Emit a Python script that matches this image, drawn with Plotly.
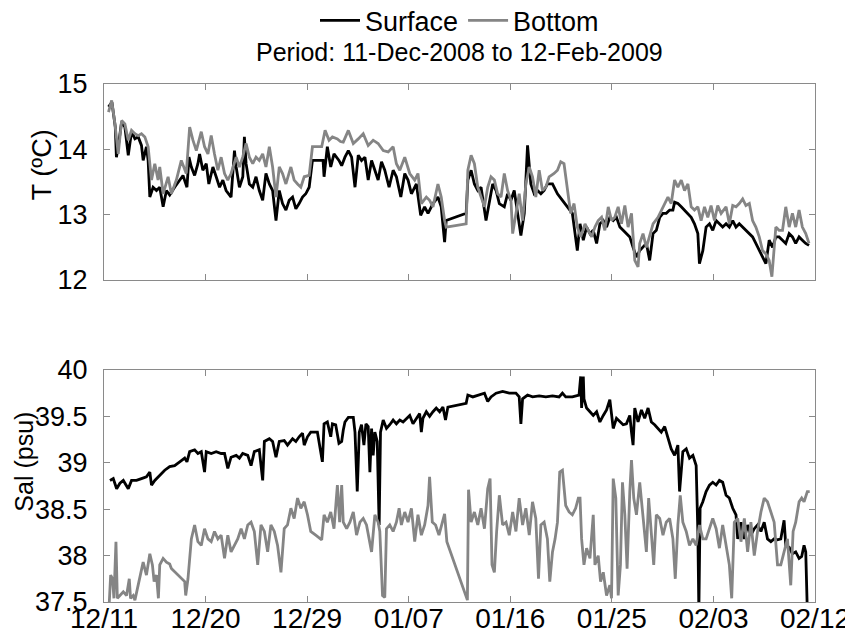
import pandas as pd
import plotly.graph_objects as go
from plotly.subplots import make_subplots

START = "2008-12-11"
END = "2009-02-12"

# ---------------- data (days since 11-Dec-2008, values) ----------------
surf_T_day = [0.4, 0.7, 1.0, 1.1, 1.26, 1.56, 1.85, 2.15, 2.44, 2.74, 3.03, 3.32, 3.47, 3.76, 3.91,
              4.06, 4.35, 4.65, 4.94, 5.24, 5.53, 5.82, 6.26, 6.71, 7.0, 7.35, 7.53, 7.74, 8.03, 8.32,
              8.47, 8.76, 9.06, 9.29, 9.65, 9.94, 10.24, 10.53, 10.82, 11.26, 11.56, 11.71, 12.0, 12.3,
              12.44, 12.59, 12.88, 13.18, 13.47, 13.76, 14.06, 14.35, 14.65, 14.94, 15.24, 15.53, 15.82,
              16.12, 16.41, 16.71, 17.0, 17.29, 17.59, 17.88, 18.18, 18.47, 19.06, 19.41, 19.5, 19.79,
              20.09, 20.38, 20.82, 21.06, 21.35, 21.65, 21.94, 22.24, 22.53, 22.82, 23.12, 23.41, 23.71,
              24.0, 24.29, 24.59, 24.88, 25.26, 25.62, 25.91, 26.3, 26.65, 26.94, 27.24, 27.68, 28.06,
              28.41, 28.71, 29.15, 29.59, 29.88, 30.18, 30.32, 32.09, 32.24, 32.53, 32.82, 33.12, 33.41,
              33.85, 34.15, 34.44, 34.74, 35.03, 35.47, 35.76, 36.06, 36.35, 36.65, 36.94, 37.24, 37.53,
              37.82, 38.12, 38.41, 38.71, 39.0, 39.29, 39.74, 40.18, 40.62, 41.06, 41.5, 41.94, 42.18,
              42.47, 42.76, 43.06, 43.35, 43.65, 43.94, 44.24, 44.53, 44.82, 45.12, 45.41, 45.71, 46.0,
              46.29, 46.59, 46.88, 47.18, 47.47, 47.76, 48.06, 48.35, 48.65, 48.94, 49.24, 49.53, 49.82,
              50.12, 50.41, 50.56, 50.85, 51.15, 51.44, 51.74, 52.03, 52.32, 52.62, 52.76, 53.06, 53.35,
              53.65, 53.94, 54.24, 54.53, 54.82, 55.12, 55.41, 55.71, 56.0, 56.29, 56.59, 56.88, 57.18,
              57.47, 57.76, 58.06, 58.35, 58.65, 58.94, 59.24, 59.53, 59.82, 60.12, 60.41, 60.71, 61.0,
              61.29, 61.59, 61.88, 62.18, 62.47]
surf_T = [14.65, 14.72, 14.34, 13.88, 14.04, 14.42, 14.34, 13.91, 14.27, 14.16, 14.19, 14.06, 13.83, 14.04, 13.83,
          13.27, 13.42, 13.37, 13.42, 13.12, 13.37, 13.30, 13.42, 13.53, 13.60, 13.42, 13.88, 13.73, 13.60, 13.78,
          13.93, 13.68, 13.78, 13.47, 13.73, 13.58, 13.42, 13.53, 13.37, 13.27, 13.98, 13.73, 13.42, 13.58,
          14.19, 13.78, 13.47, 13.42, 13.58, 13.37, 13.22, 13.63, 13.47, 13.37, 12.91, 13.37, 13.17,
          13.07, 13.22, 13.27, 13.09, 13.17, 13.27, 13.32, 13.42, 13.83, 13.83, 13.83, 13.58, 14.04,
          13.73, 13.93, 13.83, 13.75, 13.88, 13.98, 13.88, 13.42, 13.91, 13.83, 13.88, 13.53, 13.83,
          13.68, 13.53, 13.81, 13.68, 13.42, 13.68, 13.58, 13.27, 13.63, 13.53, 13.32, 13.47, 12.99,
          13.12, 13.02, 13.17, 13.27, 13.12, 12.58, 12.91, 13.02, 13.53, 13.68, 13.47, 13.37, 13.42,
          12.91, 13.22, 13.47, 13.37, 13.17, 13.12, 13.32, 13.22, 13.37, 13.02, 12.68, 13.02, 14.06,
          13.47, 13.32, 13.37, 13.32, 13.37, 13.47, 13.47, 13.32, 13.22, 13.12, 13.02, 12.45, 12.86,
          12.61, 12.81, 12.71, 12.76, 12.56, 12.86, 12.91, 12.81, 12.96, 12.91, 12.96, 12.81, 12.76,
          12.71, 12.66, 12.50, 12.35, 12.45, 12.50, 12.56, 12.30, 12.71, 12.76, 12.96, 13.02, 13.02,
          13.07, 13.07, 13.19, 13.17, 13.12, 13.07, 13.02, 12.96, 12.86, 12.71, 12.25, 12.45, 12.81,
          12.86, 12.76, 12.91, 12.86, 12.81, 12.86, 12.81, 12.91, 12.81, 12.86, 12.81, 12.76, 12.71,
          12.66, 12.56, 12.45, 12.35, 12.25, 12.61, 12.50, 12.66, 12.66, 12.61, 12.56, 12.71, 12.66,
          12.56, 12.66, 12.61, 12.56, 12.53]

bot_T_day = [0.4, 0.68, 0.97, 1.26, 1.56, 1.85, 2.15, 2.44, 2.74, 3.03, 3.32, 3.62, 3.91, 4.21, 4.5,
             4.79, 4.94, 5.24, 5.68, 5.97, 6.41, 6.85, 7.29, 7.59, 7.88, 8.18, 8.62, 8.91, 9.21, 9.5,
             9.79, 10.09, 10.38, 10.68, 10.97, 11.26, 11.71, 12.0, 12.29, 12.59, 12.88, 13.18, 13.47,
             13.76, 14.06, 14.35, 14.65, 14.94, 15.24, 15.53, 15.82, 16.12, 16.56, 16.85, 17.15, 17.44,
             17.74, 18.18, 18.47, 19.29, 19.59, 19.94, 20.24, 20.68, 20.95, 21.2, 21.65, 22.09, 22.53,
             22.97, 23.41, 23.85, 24.29, 24.74, 25.18, 25.62, 25.91, 26.21, 26.65, 27.09, 27.53, 27.82,
             28.12, 28.56, 28.85, 29.15, 29.59, 29.88, 30.18, 30.32, 32.09, 32.24, 32.53, 32.82, 33.12,
             33.41, 33.71, 34.0, 34.29, 34.59, 34.88, 35.18, 35.47, 35.76, 36.06, 36.21, 36.5, 36.79,
             37.09, 37.38, 37.68, 37.97, 38.26, 38.56, 38.85, 39.15, 39.44, 39.88, 40.18, 40.47, 40.76,
             41.06, 41.35, 41.65, 41.94, 42.24, 42.62, 42.91, 43.21, 43.5, 43.79, 44.09, 44.38, 44.68,
             44.97, 45.26, 45.56, 45.85, 46.15, 46.44, 46.74, 47.03, 47.32, 47.47, 47.76, 48.06, 48.35,
             48.65, 49.09, 49.53, 49.97, 50.26, 50.56, 50.85, 51.15, 51.44, 51.74, 52.03, 52.32, 52.62,
             52.91, 53.21, 53.5, 53.79, 54.09, 54.38, 54.68, 55.12, 55.41, 55.71, 56.0, 56.29, 56.59,
             56.88, 57.18, 57.47, 57.76, 58.06, 58.35, 58.65, 58.94, 59.18, 59.53, 59.82, 60.12, 60.41,
             60.71, 61.0, 61.29, 61.59, 61.88, 62.18, 62.47]
bot_T = [14.57, 14.75, 14.39, 13.93, 14.44, 14.39, 14.14, 14.29, 14.24, 14.21, 14.24, 14.19, 14.04, 13.53, 13.78,
         13.53, 13.73, 13.32, 13.58, 13.32, 13.53, 13.83, 13.63, 14.34, 14.14, 13.98, 14.27, 14.04, 13.93, 14.21,
         13.93, 13.68, 13.88, 13.63, 13.53, 13.63, 13.88, 13.73, 13.88, 14.09, 13.88, 13.78, 13.88,
         13.83, 13.93, 13.73, 14.04, 13.73, 13.27, 13.73, 13.63, 13.47, 13.73, 13.53, 13.47, 13.42,
         13.58, 13.60, 14.04, 14.04, 14.29, 14.14, 14.19, 14.16, 14.12, 14.11, 14.29, 14.09, 14.16,
         14.24, 14.06, 14.14, 14.09, 13.98, 13.96, 14.04, 13.78, 13.68, 13.88, 13.63, 13.53, 13.63,
         13.17, 13.27, 13.22, 13.12, 13.47, 13.27, 12.91, 12.81, 12.86, 13.68, 13.91, 13.78, 13.42,
         13.27, 13.12, 13.42, 13.58, 13.53, 13.32, 13.27, 13.63, 13.37, 13.22, 12.71, 13.02, 13.32,
         12.91, 13.47, 13.73, 13.58, 13.27, 13.68, 13.37, 13.42, 13.58, 13.63, 13.68, 13.81, 13.78,
         13.37, 13.02, 13.17, 12.81, 12.66, 12.86, 12.76, 12.66, 12.81, 12.91, 12.96, 12.76, 13.12,
         12.91, 12.96, 13.12, 12.86, 13.14, 12.81, 13.02, 12.30, 12.20, 12.56, 12.71, 12.50, 12.66,
         12.86, 12.96, 13.12, 13.27, 13.17, 13.53, 13.42, 13.53, 13.37, 13.47, 13.12, 13.07, 13.12,
         12.91, 13.12, 12.96, 13.14, 12.91, 13.14, 13.02, 13.12, 12.86, 13.14, 13.12, 13.17, 13.24,
         13.14, 13.17, 12.91, 12.81, 12.66, 12.45, 12.40, 12.30, 12.05, 12.81, 12.76, 12.76, 13.12,
         12.81, 13.02, 12.81, 13.07, 12.81, 12.71, 12.56]

surf_S_day = [0.53, 0.82, 1.12, 1.41, 1.71, 2.15, 2.44, 2.88, 3.32, 3.76, 4.06, 4.21, 4.5, 4.94, 5.38,
              5.82, 6.26, 6.71, 7.15, 7.35, 7.59, 8.03, 8.32, 8.62, 8.91, 9.06, 9.5, 9.94, 10.38, 10.68,
              10.97, 11.26, 11.71, 12.0, 12.29, 12.74, 13.03, 13.32, 13.76, 14.06, 14.21, 14.65, 14.94,
              15.24, 15.53, 15.97, 16.26, 16.71, 17.0, 17.29, 17.59, 17.74, 18.03, 18.32, 18.62, 18.91,
              19.35, 19.5, 19.79, 20.09, 20.24, 20.53, 20.82, 21.06, 21.2, 21.35, 21.65, 22.09, 22.24,
              22.44, 22.62, 22.82, 23.03, 23.21, 23.41, 23.56, 23.71, 23.85, 24.0, 24.21, 24.38, 24.5,
              24.74, 25.03, 25.32, 25.62, 25.91, 26.21, 26.5, 26.79, 27.09, 27.38, 27.68, 27.97, 28.12,
              28.26, 28.56, 28.85, 29.15, 29.44, 29.74, 30.03, 30.26, 30.47, 32.09, 32.24, 32.68, 33.26,
              33.71, 34.0, 34.29, 34.74, 35.32, 35.91, 36.5, 36.79, 36.94, 37.09, 37.53, 37.97, 38.56,
              39.15, 39.74, 40.32, 40.62, 40.91, 41.5, 42.09, 42.24, 42.32, 42.47, 42.53, 42.76, 43.06,
              43.35, 43.65, 43.94, 44.24, 44.53, 44.82, 45.12, 45.41, 45.71, 46.0, 46.29, 46.59, 46.74,
              46.88, 47.03, 47.32, 47.62, 47.91, 48.21, 48.5, 48.79, 49.09, 49.38, 49.68, 49.97, 50.26,
              50.56, 50.85, 51.0, 51.29, 51.59, 51.88, 52.18, 52.47, 52.62, 52.71, 52.82, 53.06, 53.35,
              53.65, 53.94, 54.24, 54.53, 54.82, 55.12, 55.41, 55.71, 56.0, 56.15, 56.44, 56.74, 57.03,
              57.32, 57.62, 57.91, 58.21, 58.5, 58.79, 59.09, 59.38, 59.68, 59.97, 60.26, 60.41, 60.71,
              61.0, 61.29, 61.59, 61.82, 62.03, 62.18, 62.32]
surf_S = [38.81, 38.83, 38.72, 38.78, 38.81, 38.72, 38.81, 38.81, 38.83, 38.85, 38.90, 38.76, 38.81, 38.87, 38.92,
          38.96, 38.97, 39.01, 39.05, 39.01, 39.12, 39.14, 39.10, 39.12, 38.90, 39.12, 39.10, 39.12, 39.10, 39.10,
          38.94, 39.06, 39.08, 39.05, 39.10, 39.08, 38.97, 39.12, 39.14, 38.81, 39.23, 39.26, 39.23,
          39.06, 39.23, 39.24, 39.19, 39.26, 39.23, 39.28, 39.32, 39.19, 39.28, 39.33, 39.33, 39.33,
          39.01, 39.42, 39.44, 39.28, 39.42, 39.41, 39.21, 39.23, 39.35, 39.44, 39.49, 39.49, 39.33,
          38.69, 39.33, 39.41, 39.19, 39.42, 39.39, 38.90, 39.37, 39.08, 39.33, 39.23, 38.33, 39.33,
          39.46, 39.37, 39.41, 39.46, 39.42, 39.46, 39.44, 39.48, 39.51, 39.42, 39.48, 39.53, 39.33,
          39.48, 39.55, 39.50, 39.55, 39.59, 39.55, 39.60, 39.46, 39.60, 39.64, 39.73, 39.71, 39.73,
          39.75, 39.66, 39.71, 39.75, 39.77, 39.75, 39.75, 39.71, 39.42, 39.69, 39.73, 39.71, 39.72,
          39.71, 39.72, 39.71, 39.75, 39.71, 39.71, 39.73, 39.93, 39.59, 39.93, 39.69, 39.59, 39.55,
          39.51, 39.55, 39.44, 39.51, 39.57, 39.68, 39.37, 39.48, 39.44, 39.41, 39.42, 39.51, 39.33,
          39.19, 39.59, 39.44, 39.57, 39.48, 39.59, 39.44, 39.41, 39.37, 39.33, 39.39, 39.26, 39.15,
          39.08, 39.19, 38.69, 39.12, 39.15, 39.05, 39.08, 38.97, 38.26, 37.40, 38.51, 38.58, 38.69,
          38.76, 38.79, 38.76, 38.81, 38.79, 38.65, 38.62, 38.51, 38.44, 38.18, 38.36, 38.18, 38.33,
          38.22, 38.29, 38.33, 38.26, 38.36, 38.18, 38.15, 38.18, 38.17, 38.18, 38.38, 38.11, 38.09,
          38.02, 38.04, 37.97, 37.99, 38.11, 38.04, 37.40]

bot_S_day = [0.47, 0.59, 0.76, 0.88, 1.06, 1.18, 1.41, 1.71, 2.0, 2.24, 2.35, 2.59, 2.74, 3.03, 3.47,
             3.76, 4.06, 4.29, 4.44, 4.65, 4.82, 4.94, 5.24, 5.53, 5.82, 5.97, 7.15, 7.24, 7.44, 7.74,
             8.03, 8.32, 8.62, 8.91, 9.21, 9.5, 9.79, 10.09, 10.38, 10.68, 10.97, 11.26, 11.56, 11.85,
             12.15, 12.44, 12.74, 13.03, 13.32, 13.62, 13.91, 14.21, 14.5, 14.79, 15.09, 15.38, 15.68,
             15.97, 16.26, 16.56, 16.85, 17.15, 17.44, 17.74, 18.03, 18.32, 18.76, 19.29, 19.5, 19.79,
             20.09, 20.38, 20.68, 20.88, 21.06, 21.2, 21.5, 21.79, 22.09, 22.38, 22.68, 22.97, 23.26,
             23.71, 24.0, 24.29, 24.44, 24.68, 24.88, 25.03, 25.32, 25.62, 25.91, 26.15, 26.35, 26.65,
             26.94, 27.24, 27.53, 27.82, 28.12, 28.41, 28.71, 28.85, 29.09, 29.38, 29.68, 29.97, 30.18,
             30.38, 32.2, 32.3, 32.53, 32.82, 33.12, 33.41, 33.71, 34.0, 34.21, 34.38, 34.59, 34.79,
             35.03, 35.32, 35.62, 35.91, 36.21, 36.5, 36.79, 37.09, 37.38, 37.68, 37.97, 38.26, 38.5,
             38.71, 39.0, 39.29, 39.5, 39.74, 39.97, 40.18, 40.38, 40.62, 40.91, 41.21, 41.5, 41.79,
             42.03, 42.18, 42.32, 42.53, 42.76, 43.06, 43.35, 43.5, 43.79, 44.0, 44.24, 44.53, 44.82,
             44.97, 45.12, 45.35, 45.56, 45.76, 45.94, 46.15, 46.35, 46.59, 46.74, 46.94, 47.18, 47.47,
             47.76, 48.06, 48.26, 48.5, 48.71, 48.94, 49.24, 49.53, 49.82, 50.12, 50.41, 50.62, 50.85,
             51.06, 51.29, 51.59, 51.88, 52.18, 52.47, 52.76, 53.06, 53.35, 53.65, 53.94, 54.24, 54.53,
             54.82, 55.12, 55.41, 55.62, 55.85, 56.15, 56.44, 56.74, 57.03, 57.32, 57.62, 57.91, 58.21,
             58.5, 58.79, 59.09, 59.38, 59.68, 59.97, 60.26, 60.56, 60.85, 61.06, 61.29, 61.59, 61.82,
             62.03, 62.32, 62.53]
bot_S = [37.50, 37.79, 37.75, 37.54, 38.15, 37.54, 37.57, 37.61, 37.57, 37.75, 37.54, 37.57, 37.52, 37.68, 37.93,
         37.79, 38.02, 37.90, 37.72, 37.79, 37.54, 37.90, 37.97, 37.93, 37.91, 37.86, 37.72, 37.57, 37.75, 38.18,
         38.33, 38.15, 38.11, 38.29, 38.18, 38.15, 38.26, 38.18, 38.22, 37.97, 38.22, 38.04, 38.11, 38.18,
         38.29, 38.18, 38.33, 38.36, 38.26, 37.90, 38.33, 38.26, 38.04, 38.33, 38.26, 38.11, 37.82,
         38.29, 38.33, 38.51, 38.40, 38.62, 38.51, 38.58, 38.44, 38.26, 38.22, 38.17, 38.44, 38.36,
         38.47, 38.29, 38.76, 38.36, 38.76, 38.36, 38.29, 38.36, 38.47, 38.22, 38.36, 38.40, 38.33,
         38.04, 38.44, 38.36, 38.26, 37.57, 37.55, 38.29, 38.33, 38.26, 38.36, 38.51, 38.33, 38.47,
         38.36, 38.51, 38.15, 38.44, 38.22, 38.33, 38.54, 38.85, 38.36, 38.33, 38.22, 38.36, 38.45,
         38.15, 37.52, 38.71, 38.36, 38.47, 38.33, 38.51, 38.29, 38.72, 38.83, 37.90, 37.82, 38.26,
         38.65, 38.33, 38.36, 38.22, 38.47, 38.26, 38.62, 38.33, 38.51, 38.22, 38.58, 38.40, 37.75,
         38.33, 38.36, 38.18, 37.72, 38.04, 38.18, 38.36, 38.90, 38.92, 38.54, 38.47, 38.44, 38.51,
         38.62, 38.62, 38.18, 37.90, 38.08, 37.97, 38.44, 37.90, 38.00, 37.72, 37.82, 37.57, 37.68,
         37.54, 38.83, 38.62, 37.57, 37.90, 38.79, 38.44, 37.86, 38.69, 39.03, 38.62, 38.44, 38.79,
         38.44, 38.04, 38.62, 38.26, 37.90, 38.44, 38.40, 38.22, 38.36, 38.40, 38.18, 37.75, 38.33,
         38.65, 38.36, 38.26, 38.11, 38.18, 38.11, 38.33, 38.18, 38.18, 38.29, 38.40, 38.29, 38.08,
         38.33, 38.11, 37.90, 37.54, 38.36, 38.40, 38.15, 38.40, 38.04, 38.36, 38.00, 38.26, 38.47,
         38.62, 38.58, 38.47, 38.36, 37.90, 37.90, 38.04, 38.18, 37.68, 38.26, 38.36, 38.58, 38.62,
         38.58, 38.69, 38.69]

series_names = ["Surface", "Bottom"]
series_colors = ["#000000", "#858585"]

T_ticks = [12, 13, 14, 15]
S_ticks = [37.5, 38, 38.5, 39, 39.5, 40]
subtitle = "Period: 11-Dec-2008 to 12-Feb-2009"
ylab_T = "T (ºC)"
ylab_S = "Sal (psu)"


def to_dates(days):
    return pd.Timestamp(START) + pd.to_timedelta(days, unit="D")


fig = make_subplots(rows=2, cols=1, shared_xaxes=False, vertical_spacing=0.0)

FONT = "Arial, Liberation Sans, sans-serif"
FRAME = "#8a8a8a"
LW = 2.8

fig.add_trace(go.Scatter(x=to_dates(surf_T_day), y=surf_T, mode="lines", name=series_names[0],
                         line=dict(color=series_colors[0], width=LW)), row=1, col=1)
fig.add_trace(go.Scatter(x=to_dates(bot_T_day), y=bot_T, mode="lines", name=series_names[1],
                         line=dict(color=series_colors[1], width=LW)), row=1, col=1)
fig.add_trace(go.Scatter(x=to_dates(surf_S_day), y=surf_S, mode="lines", name=series_names[0],
                         line=dict(color=series_colors[0], width=LW), showlegend=False), row=2, col=1)
fig.add_trace(go.Scatter(x=to_dates(bot_S_day), y=bot_S, mode="lines", name=series_names[1],
                         line=dict(color=series_colors[1], width=LW), showlegend=False), row=2, col=1)

axis_common = dict(showline=True, linecolor=FRAME, linewidth=1.3, mirror="ticks",
                   ticks="inside", ticklen=6, tickcolor=FRAME, tickwidth=1.2, automargin=False,
                   showgrid=False, zeroline=False, tickfont=dict(size=27, color="black", family=FONT))

x_common = dict(range=[START, END], tick0=START, dtick=9 * 86400000, tickformat="%m/%d")

fig.update_xaxes(**axis_common, **x_common)
fig.update_xaxes(showticklabels=False, domain=[0, 1], row=1, col=1)
fig.update_xaxes(domain=[0, 1], ticklabelstandoff=-9, tickfont=dict(size=28), row=2, col=1)

fig.update_yaxes(**axis_common)
fig.update_yaxes(range=[12, 15], tickvals=T_ticks, domain=[0.6216, 1.0], ticklabelstandoff=10, row=1, col=1)
fig.update_yaxes(range=[37.5, 40], tickvals=S_ticks, domain=[0.0, 0.4479], ticklabelstandoff=10, row=2, col=1)

fig.add_annotation(text=subtitle, xref="paper", yref="paper", x=0.5, y=1.062, xanchor="center",
                   yanchor="middle", showarrow=False, font=dict(size=25, color="black", family=FONT))
fig.add_annotation(text=ylab_T, xref="paper", yref="paper", x=-0.087, y=0.8436, xanchor="center",
                   yanchor="middle", textangle=-90, showarrow=False,
                   font=dict(size=27, color="black", family=FONT))
fig.add_annotation(text=ylab_S, xref="paper", yref="paper", x=-0.113, y=0.2703, xanchor="center",
                   yanchor="middle", textangle=-90, showarrow=False,
                   font=dict(size=25, color="black", family=FONT))

# the page body adds an 8 px offset; margins are shifted to compensate
fig.update_layout(
    width=853, height=639,
    margin=dict(l=96, r=46, t=76, b=45, autoexpand=False),
    paper_bgcolor="white", plot_bgcolor="white",
    font=dict(family=FONT, color="black"),
    legend=dict(orientation="h", x=0.5, xanchor="center", y=1.122, yanchor="middle",
                font=dict(size=27, color="black", family=FONT), bgcolor="rgba(0,0,0,0)",
                itemwidth=40, tracegroupgap=0),
    showlegend=True,
)

fig.write_html("out.html")
